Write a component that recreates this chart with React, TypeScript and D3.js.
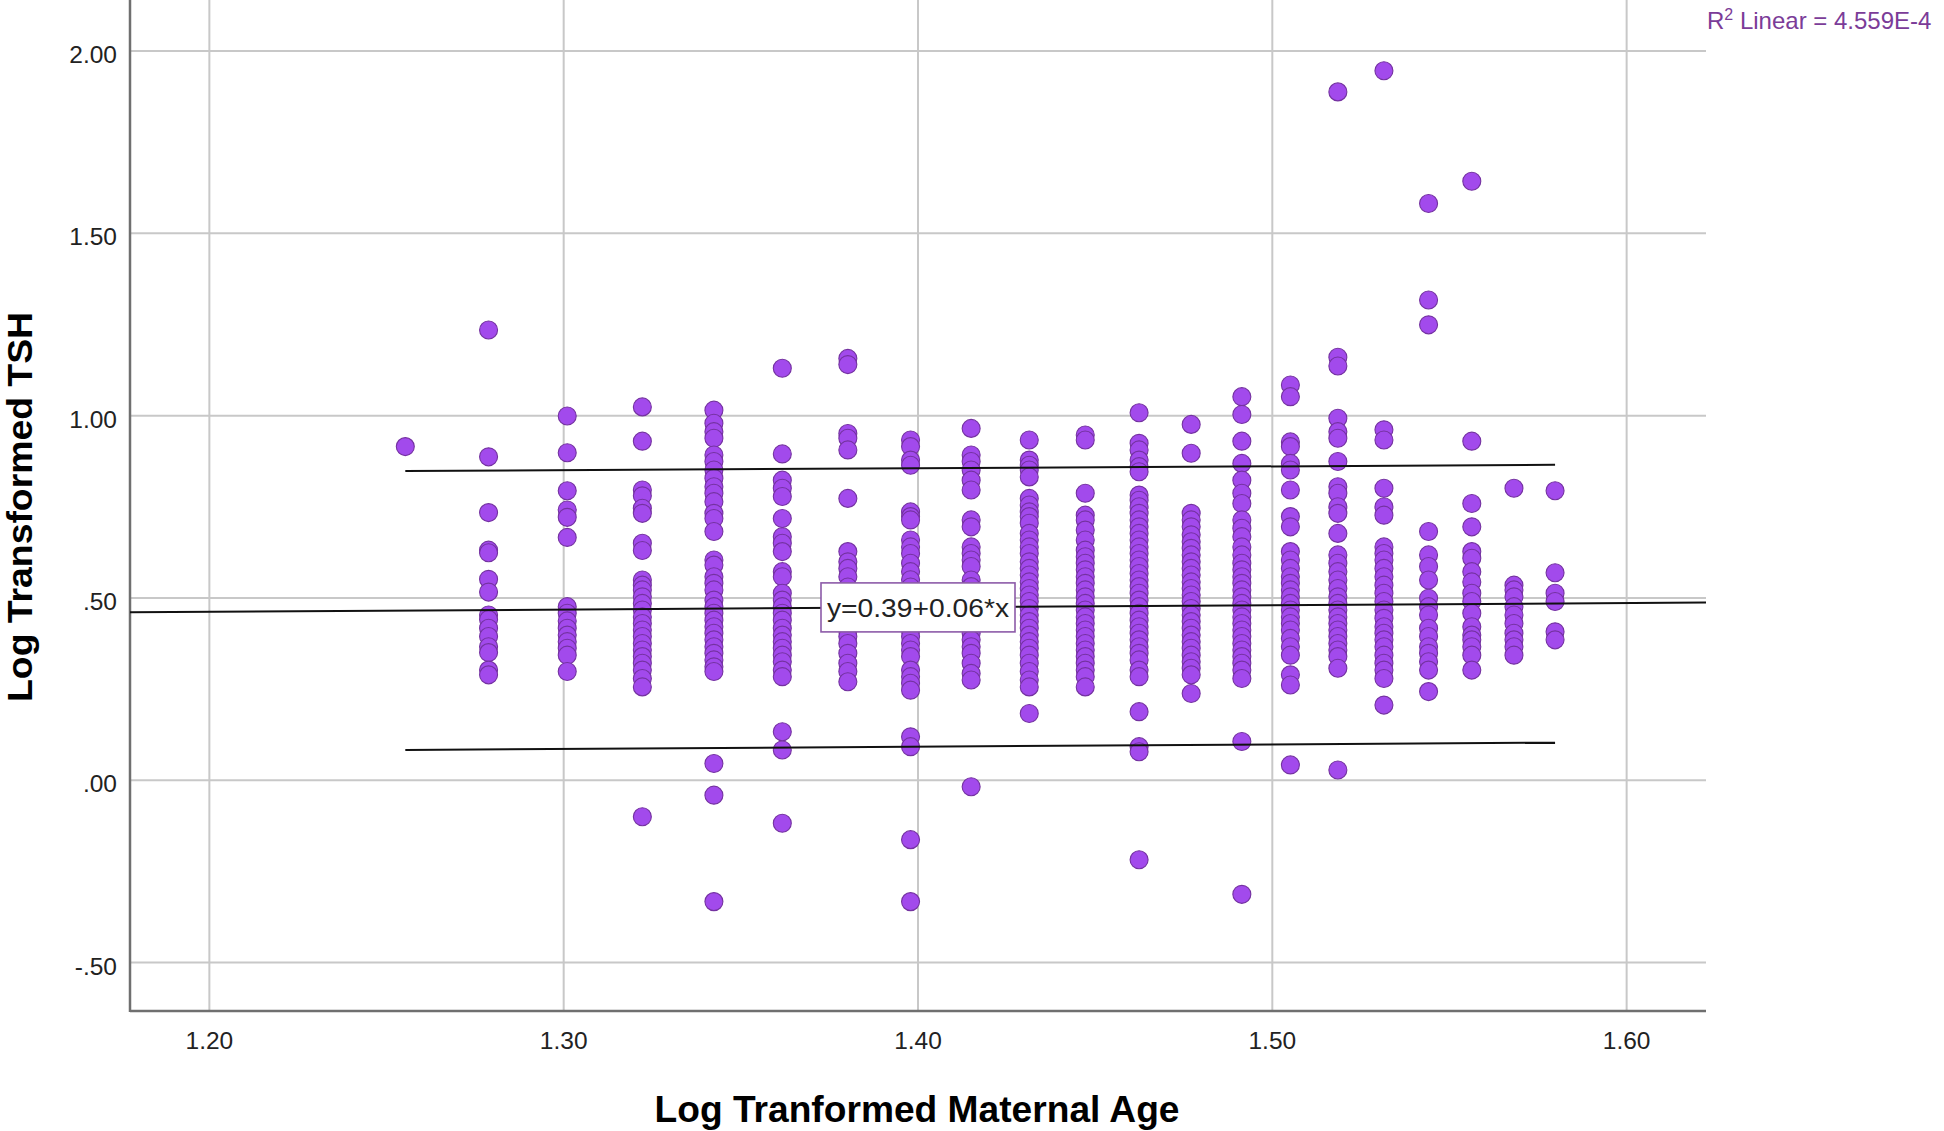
import React from "react";
import * as d3 from "d3";

// ---------- data ----------
const xTickValues = [1.2, 1.3, 1.4, 1.5, 1.6];
const xTickLabels = ["1.20", "1.30", "1.40", "1.50", "1.60"];
const yTickValues = [-0.5, 0, 0.5, 1, 1.5, 2];
const yTickLabels = ["-.50", ".00", ".50", "1.00", "1.50", "2.00"];

// log10 maternal age columns (ages 18..38)
const columnX = [
  1.2553, 1.2788, 1.301, 1.3222, 1.3424, 1.3617, 1.3802, 1.3979, 1.415, 1.4314,
  1.4472, 1.4624, 1.4771, 1.4914, 1.5051, 1.5185, 1.5315, 1.5441, 1.5563, 1.5682, 1.5798,
];

const col18 = [0.915];
const col19 = [1.235, 0.887, 0.734, 0.631, 0.624, 0.551, 0.516, 0.453, 0.441, 0.417, 0.394, 0.366, 0.35, 0.302, 0.289];
const col20 = [0.999, 0.898, 0.794, 0.741, 0.721, 0.666, 0.476, 0.458, 0.437, 0.417, 0.398, 0.38, 0.362, 0.343, 0.298];
const col21 = [1.024, 0.93, 0.796, 0.78, 0.746, 0.732, 0.65, 0.63, 0.549, 0.535, 0.522, 0.503, 0.485, 0.467, 0.448, 0.43, 0.412, 0.394, 0.375, 0.357, 0.339, 0.321, 0.302, 0.279, 0.256, -0.1];
const col22 = [1.015, 0.979, 0.956, 0.938, 0.892, 0.874, 0.851, 0.828, 0.805, 0.787, 0.764, 0.732, 0.718, 0.682, 0.604, 0.59, 0.558, 0.54, 0.522, 0.494, 0.476, 0.458, 0.439, 0.421, 0.403, 0.385, 0.366, 0.348, 0.33, 0.311, 0.298, 0.046, -0.041, -0.333];
const col23 = [1.13, 0.895, 0.823, 0.801, 0.778, 0.718, 0.668, 0.65, 0.627, 0.572, 0.558, 0.513, 0.494, 0.476, 0.458, 0.439, 0.417, 0.398, 0.38, 0.362, 0.343, 0.325, 0.302, 0.284, 0.133, 0.083, -0.118];
const col24 = [1.157, 1.14, 0.951, 0.938, 0.906, 0.773, 0.627, 0.599, 0.581, 0.558, 0.53, 0.51, 0.49, 0.47, 0.45, 0.43, 0.41, 0.394, 0.375, 0.348, 0.321, 0.298, 0.27];
const col25 = [0.933, 0.915, 0.878, 0.864, 0.736, 0.723, 0.714, 0.659, 0.64, 0.622, 0.595, 0.572, 0.55, 0.53, 0.51, 0.49, 0.47, 0.45, 0.43, 0.41, 0.394, 0.375, 0.357, 0.339, 0.302, 0.284, 0.266, 0.247, 0.119, 0.092, -0.163, -0.333];
const col26 = [0.965, 0.892, 0.874, 0.851, 0.823, 0.796, 0.714, 0.695, 0.64, 0.622, 0.604, 0.586, 0.549, 0.531, 0.513, 0.494, 0.476, 0.458, 0.439, 0.421, 0.403, 0.385, 0.366, 0.348, 0.321, 0.293, 0.275, -0.018];
const col27 = [0.933, 0.878, 0.864, 0.851, 0.832, 0.773, 0.755, 0.736, 0.723, 0.705, 0.677, 0.659, 0.64, 0.622, 0.599, 0.581, 0.563, 0.544, 0.526, 0.508, 0.49, 0.471, 0.453, 0.435, 0.417, 0.398, 0.38, 0.362, 0.343, 0.321, 0.298, 0.275, 0.256, 0.183];
const col28 = [0.947, 0.933, 0.787, 0.727, 0.714, 0.686, 0.659, 0.631, 0.613, 0.595, 0.577, 0.558, 0.54, 0.522, 0.503, 0.485, 0.467, 0.448, 0.43, 0.412, 0.394, 0.375, 0.357, 0.339, 0.321, 0.302, 0.284, 0.256];
const col29 = [1.008, 0.924, 0.906, 0.878, 0.86, 0.846, 0.782, 0.768, 0.75, 0.732, 0.714, 0.695, 0.677, 0.659, 0.64, 0.622, 0.604, 0.586, 0.567, 0.549, 0.531, 0.513, 0.494, 0.476, 0.458, 0.439, 0.421, 0.403, 0.385, 0.366, 0.348, 0.33, 0.302, 0.284, 0.188, 0.092, 0.078, -0.218];
const col30 = [0.976, 0.897, 0.732, 0.714, 0.695, 0.673, 0.654, 0.636, 0.618, 0.599, 0.581, 0.563, 0.544, 0.526, 0.508, 0.49, 0.471, 0.453, 0.435, 0.417, 0.398, 0.38, 0.362, 0.343, 0.325, 0.307, 0.289, 0.238];
const col31 = [1.052, 1.003, 0.93, 0.869, 0.823, 0.787, 0.759, 0.714, 0.691, 0.668, 0.64, 0.618, 0.595, 0.577, 0.558, 0.54, 0.522, 0.503, 0.485, 0.467, 0.448, 0.43, 0.412, 0.394, 0.375, 0.357, 0.339, 0.321, 0.302, 0.279, 0.106, -0.313];
const col32 = [1.084, 1.052, 0.928, 0.915, 0.869, 0.851, 0.796, 0.723, 0.695, 0.627, 0.604, 0.581, 0.558, 0.54, 0.522, 0.503, 0.485, 0.467, 0.448, 0.43, 0.412, 0.389, 0.366, 0.343, 0.289, 0.261, 0.042];
const col33 = [1.888, 1.16, 1.136, 0.993, 0.956, 0.938, 0.874, 0.805, 0.787, 0.75, 0.732, 0.677, 0.618, 0.595, 0.572, 0.549, 0.526, 0.503, 0.485, 0.467, 0.448, 0.43, 0.412, 0.394, 0.375, 0.357, 0.339, 0.307, 0.028];
const col34 = [1.946, 0.961, 0.933, 0.801, 0.75, 0.727, 0.64, 0.622, 0.604, 0.581, 0.558, 0.535, 0.513, 0.49, 0.467, 0.444, 0.421, 0.403, 0.385, 0.366, 0.343, 0.321, 0.302, 0.279, 0.206];
const col35 = [1.582, 1.317, 1.249, 0.682, 0.618, 0.586, 0.549, 0.499, 0.476, 0.453, 0.417, 0.394, 0.366, 0.348, 0.325, 0.302, 0.243];
const col36 = [1.643, 0.93, 0.759, 0.695, 0.627, 0.609, 0.572, 0.544, 0.513, 0.49, 0.458, 0.421, 0.398, 0.385, 0.366, 0.343, 0.302];
const col37 = [0.801, 0.535, 0.522, 0.503, 0.476, 0.453, 0.43, 0.403, 0.385, 0.366, 0.343];
const col38 = [0.794, 0.569, 0.513, 0.49, 0.407, 0.385];

const columnY = [
  col18, col19, col20, col21, col22, col23, col24, col25, col26, col27, col28,
  col29, col30, col31, col32, col33, col34, col35, col36, col37, col38,
];

// fit and 95% individual prediction interval
const fitIntercept = 0.39;
const fitSlope = 0.06;
const predictionBand = [
  { x: 1.2553, lower: 0.083, upper: 0.848 },
  { x: 1.5798, lower: 0.103, upper: 0.865 },
];
const equationLabel = "y=0.39+0.06*x";
const equationAt = 1.4;
const rSquaredText = " Linear = 4.559E-4";

const xTitle = "Log Tranformed Maternal Age";
const yTitle = "Log Transformed TSH";

// ---------- layout ----------
const W = 1944;
const H = 1131;
const plotLeft = 130;
const plotRight = 1706;
const plotTop = 0;
const plotBottom = 1011;
const FONT = "'Liberation Sans', Arial, Helvetica, sans-serif";

export default function App() {
  const x = d3.scaleLinear().domain([1.1776, 1.6224]).range([plotLeft, plotRight]);
  const y = d3.scaleLinear().domain([-0.633, 2.14]).range([plotBottom, plotTop]);

  const points: { cx: number; cy: number }[] = [];
  columnY.forEach((vals, i) => {
    vals.forEach((v) => points.push({ cx: x(columnX[i]), cy: y(v) }));
  });

  const fit = (xv: number) => fitIntercept + fitSlope * xv;
  const line = d3
    .line<[number, number]>()
    .x((d) => x(d[0]))
    .y((d) => y(d[1]));

  const [xMin, xMax] = x.domain();
  const fitPath = line([
    [xMin, fit(xMin)],
    [xMax, fit(xMax)],
  ]);
  const upperPath = line(predictionBand.map((d) => [d.x, d.upper] as [number, number]));
  const lowerPath = line(predictionBand.map((d) => [d.x, d.lower] as [number, number]));

  const lx = x(equationAt);
  const ly = y(fit(equationAt));
  const boxW = 194;
  const boxH = 49;

  return (
    <svg
      width={W}
      height={H}
      viewBox={`0 0 ${W} ${H}`}
      style={{ position: "absolute", left: 0, top: 0, background: "#fff" }}
      fontFamily={FONT}
    >
      <rect x={0} y={0} width={W} height={H} fill="#fff" />
      {/* gridlines */}
      {yTickValues.map((v) => (
        <line key={"gy" + v} x1={plotLeft} x2={plotRight} y1={y(v)} y2={y(v)} stroke="#c8c8c8" strokeWidth={2} />
      ))}
      {xTickValues.map((v) => (
        <line key={"gx" + v} x1={x(v)} x2={x(v)} y1={plotTop} y2={plotBottom} stroke="#c8c8c8" strokeWidth={2} />
      ))}
      {/* axes */}
      <line x1={plotLeft} x2={plotLeft} y1={plotTop} y2={plotBottom + 1} stroke="#6f6f6f" strokeWidth={2.5} />
      <line x1={plotLeft} x2={plotRight} y1={plotBottom} y2={plotBottom} stroke="#6f6f6f" strokeWidth={2.5} />

      {/* tick labels */}
      {yTickValues.map((v, i) => (
        <text key={"ty" + v} x={117} y={y(v) + 12} textAnchor="end" fontSize={24.5} fill="#222">
          {yTickLabels[i]}
        </text>
      ))}
      {xTickValues.map((v, i) => (
        <text key={"tx" + v} x={x(v)} y={1049} textAnchor="middle" fontSize={24.5} fill="#222">
          {xTickLabels[i]}
        </text>
      ))}

      {/* points */}
      {points.map((p, i) => (
        <circle key={i} cx={p.cx} cy={p.cy} r={9} fill="#a24aec" stroke="#7432a0" strokeWidth={1.1} />
      ))}

      {/* fit + prediction lines */}
      <path d={fitPath || ""} stroke="#111" strokeWidth={2} fill="none" />
      <path d={upperPath || ""} stroke="#111" strokeWidth={2} fill="none" />
      <path d={lowerPath || ""} stroke="#111" strokeWidth={2} fill="none" />

      {/* equation label */}
      <rect x={lx - boxW / 2} y={ly - boxH / 2} width={boxW} height={boxH} fill="#fff" stroke="#8c5aa8" strokeWidth={1.6} />
      <text x={lx} y={ly + 10} textAnchor="middle" fontSize={26} fill="#222" textLength={182} lengthAdjust="spacingAndGlyphs">
        {equationLabel}
      </text>

      {/* R squared */}
      <text x={1707} y={29} fontSize={24} fill="#7b3c98">
        R<tspan fontSize={16} dy={-9}>2</tspan>
        <tspan dy={9}>{rSquaredText}</tspan>
      </text>

      {/* axis titles */}
      <text x={917} y={1122} textAnchor="middle" fontSize={37} fontWeight="bold" fill="#000" textLength={525} lengthAdjust="spacingAndGlyphs">
        {xTitle}
      </text>
      <text
        transform={`translate(32, 507) rotate(-90)`}
        textAnchor="middle"
        fontSize={35}
        fontWeight="bold"
        fill="#000"
        textLength={390}
        lengthAdjust="spacingAndGlyphs"
      >
        {yTitle}
      </text>
    </svg>
  );
}
